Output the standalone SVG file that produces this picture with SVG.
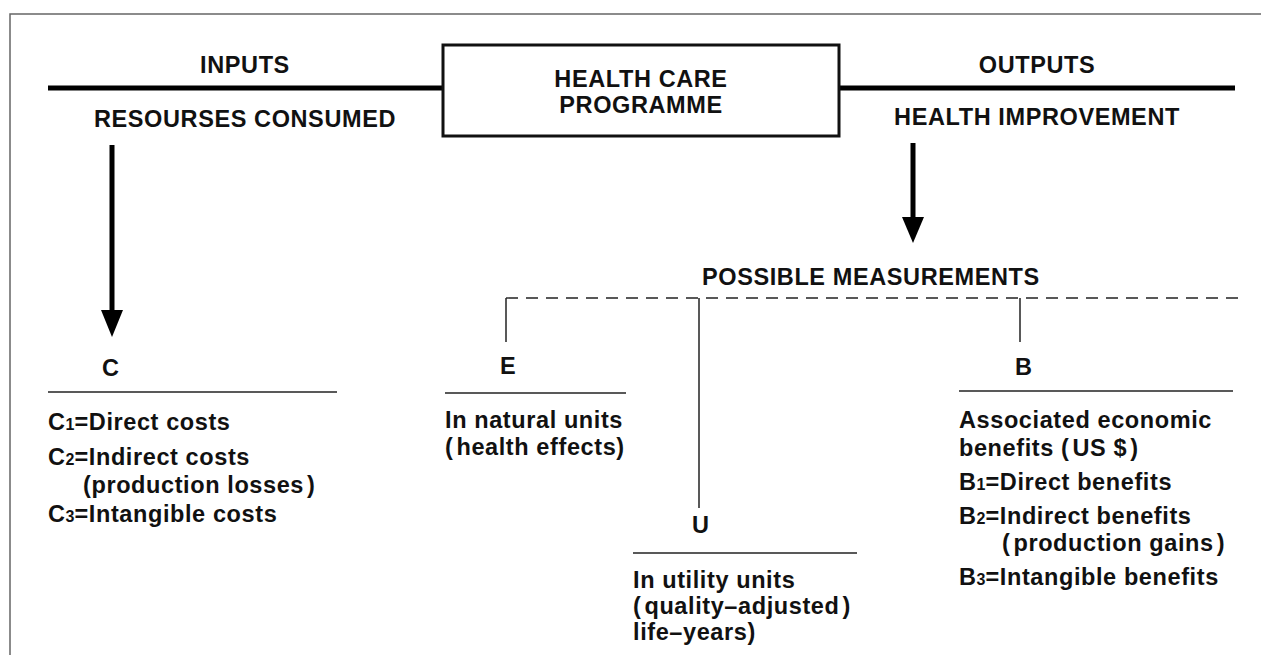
<svg xmlns="http://www.w3.org/2000/svg" width="1261" height="655" viewBox="0 0 1261 655">
<style>
text{font-family:"Liberation Sans",Arial,sans-serif;font-weight:bold;font-size:23.5px;fill:#111;letter-spacing:0.6px}
.c{text-anchor:middle}
.sub{font-size:16px;letter-spacing:0}
.thin{stroke:#222;stroke-width:1.5;fill:none}
.thick{stroke:#000;stroke-width:5;fill:none}
</style>
<rect width="1261" height="655" fill="#fff"/>
<path d="M10 655V14H1261" fill="none" stroke="#666" stroke-width="1.5"/>
<g id="connectors">
<line class="thick" x1="48" y1="88" x2="443" y2="88"/>
<line class="thick" x1="839" y1="88" x2="1235" y2="88"/>
<line class="thick" x1="112" y1="145" x2="112" y2="312"/>
<polygon points="101,310 123,310 112,337" fill="#000"/>
<line class="thick" x1="913" y1="143" x2="913" y2="219"/>
<polygon points="902,217 924,217 913,243" fill="#000"/>
<line x1="506" y1="298" x2="1240" y2="298" stroke="#222" stroke-width="1.4" stroke-dasharray="12 8"/>
<line class="thin" x1="506" y1="298" x2="506" y2="342"/>
<line class="thin" x1="699" y1="298" x2="699" y2="508"/>
<line class="thin" x1="1020" y1="298" x2="1020" y2="342"/>
</g>
<g id="inputs">
<text class="c" x="245" y="73">INPUTS</text>
<text class="c" x="245" y="127">RESOURSES CONSUMED</text>
</g>
<g id="programme">
<rect x="443" y="45" width="396" height="91" fill="#fff" stroke="#111" stroke-width="3"/>
<text class="c" x="641" y="87">HEALTH CARE</text>
<text class="c" x="641" y="113">PROGRAMME</text>
</g>
<g id="outputs">
<text class="c" x="1037" y="73">OUTPUTS</text>
<text class="c" x="1037" y="125">HEALTH IMPROVEMENT</text>
</g>
<g id="measurements">
<text x="702" y="285">POSSIBLE MEASUREMENTS</text>
</g>
<g id="node-c">
<text x="102" y="376">C</text>
<line class="thin" x1="48" y1="392" x2="337" y2="392"/>
<text x="48" y="430">C<tspan class="sub">1</tspan>=Direct costs</text>
<text x="48" y="465">C<tspan class="sub">2</tspan>=Indirect costs</text>
<text x="83" y="493">(production losses<tspan dx="3">)</tspan></text>
<text x="48" y="522">C<tspan class="sub">3</tspan>=Intangible costs</text>
</g>
<g id="node-e">
<text x="500" y="374">E</text>
<line class="thin" x1="445" y1="393" x2="626" y2="393"/>
<text x="445" y="428">In natural units</text>
<text x="445" y="455">(<tspan dx="3">health effects)</tspan></text>
</g>
<g id="node-u">
<text x="692" y="533">U</text>
<line class="thin" x1="633" y1="553" x2="857" y2="553"/>
<text x="633" y="588">In utility units</text>
<text x="633" y="614">(<tspan dx="3">quality–adjusted</tspan><tspan dx="3">)</tspan></text>
<text x="633" y="640">life–years)</text>
</g>
<g id="node-b">
<text x="1015" y="375">B</text>
<line class="thin" x1="959" y1="391" x2="1233" y2="391"/>
<text x="959" y="428">Associated economic</text>
<text x="959" y="456">benefits (<tspan dx="3">US $</tspan><tspan dx="3">)</tspan></text>
<text x="959" y="490">B<tspan class="sub">1</tspan>=Direct benefits</text>
<text x="959" y="524">B<tspan class="sub">2</tspan>=Indirect benefits</text>
<text x="1002" y="551">(<tspan dx="3">production gains</tspan><tspan dx="3">)</tspan></text>
<text x="959" y="585">B<tspan class="sub">3</tspan>=Intangible benefits</text>
</g>
</svg>
